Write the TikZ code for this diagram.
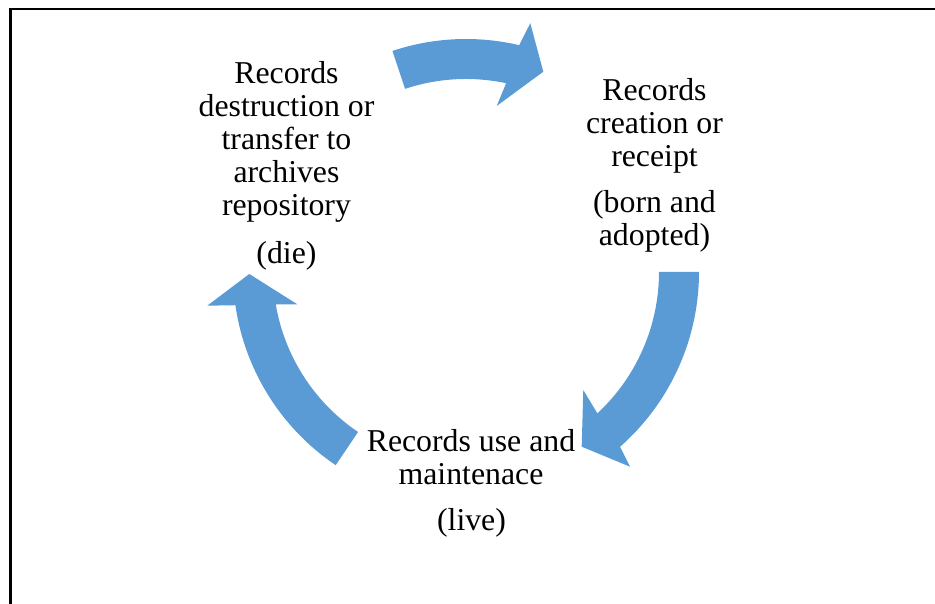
\documentclass[tikz,border=0pt]{standalone}
\usepackage{fontspec}
\setmainfont{Liberation Serif}
\usetikzlibrary{calc}
\definecolor{cyclearrow}{RGB}{91,155,213}
\begin{document}
\begin{tikzpicture}[x=1pt,y=1pt,
  arrowfill/.style={fill=cyclearrow,draw=none},
  label/.style={align=center,inner sep=0pt,anchor=base,
    font=\fontsize{31.8}{33}\selectfont},
  frame/.style={line width=2.5pt,line join=miter}]
\useasboundingbox (0,0) rectangle (935,604);
% open frame along the top and left
\draw[frame] (935,595) -- (10.5,595) -- (10.5,0);
% centre of the cycle
\coordinate (C) at (466,332);
% top arrow: destruction -> creation
\fill[arrowfill] ([shift={(108.4:233pt)}]C)
  arc[start angle=108.4,end angle=76.8,radius=233pt]
  -- (530.3,580.8) -- (543.3,532.3) -- (496.7,498)
  -- ([shift={(78:193pt)}]C)
  arc[start angle=78,end angle=108.4,radius=193pt] -- cycle;
% right arrow: creation -> use
\fill[arrowfill] ([shift={(0:233pt)}]C)
  arc[start angle=0,end angle=-48.6,radius=233pt]
  -- (630,137.3) -- (581.7,157.3) -- (583.3,214)
  -- ([shift={(-47.1:193pt)}]C)
  arc[start angle=-47.1,end angle=0,radius=193pt] -- cycle;
% left arrow: use -> destruction
\fill[arrowfill] ([shift={(236:233pt)}]C)
  arc[start angle=236,end angle=188.2,radius=233pt]
  -- (207.3,298.3) -- (249.3,330) -- (297.3,299.7)
  -- ([shift={(189.7:193pt)}]C)
  arc[start angle=189.7,end angle=236,radius=193pt] -- cycle;
% stage labels (multi-line nodes sit on the baseline of their last line)
\node[label] (dieText) at (286.5,388.5) {Records\\destruction or\\transfer to\\archives\\repository};
\node[label] (dieNote) at (286.5,340.7) {(die)};
\node[label] (bornText) at (654.5,437) {Records\\creation or\\receipt};
\node[label] (bornNote) at (654.5,358.5) {(born and\\adopted)};
\node[label] (liveText) at (471,119.5) {Records use and\\maintenace};
\node[label] (liveNote) at (471.5,73) {(live)};
\end{tikzpicture}
\end{document}
